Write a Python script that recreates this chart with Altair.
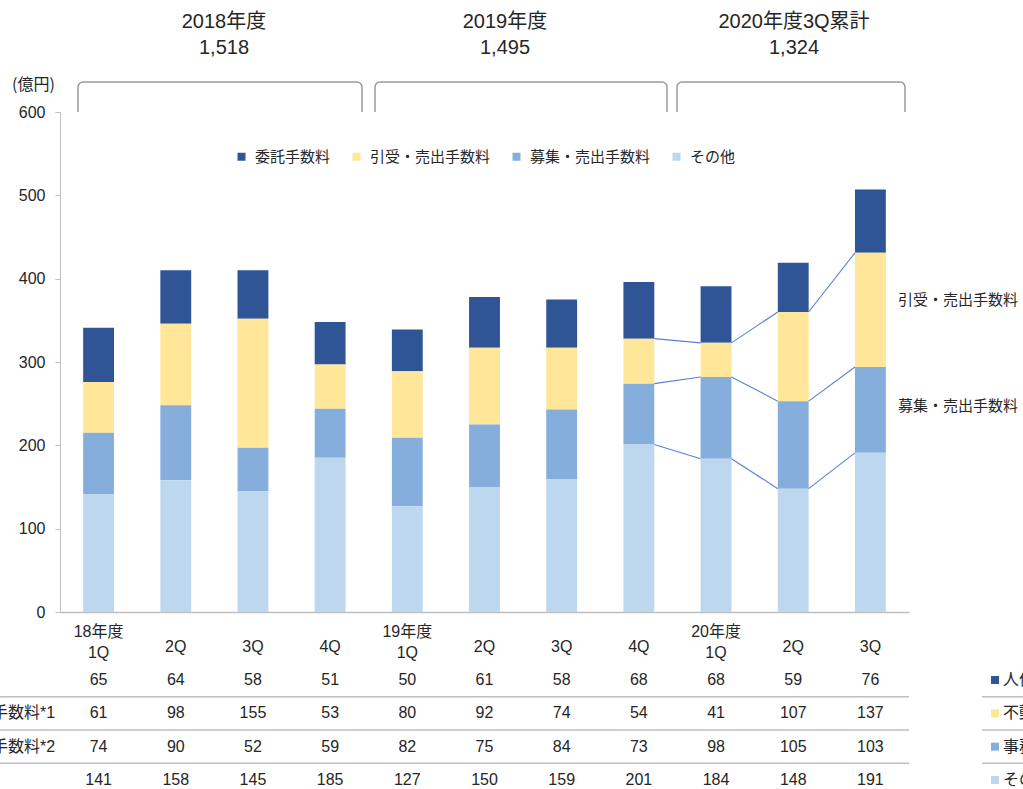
import altair as alt
import pandas as pd

# ---------------- data ----------------
quarters = ["18-1Q", "18-2Q", "18-3Q", "18-4Q", "19-1Q", "19-2Q", "19-3Q", "19-4Q", "20-1Q", "20-2Q", "20-3Q"]
year_labels = ["18年度", "", "", "", "19年度", "", "", "", "20年度", "", ""]
q_labels = ["1Q", "2Q", "3Q", "4Q", "1Q", "2Q", "3Q", "4Q", "1Q", "2Q", "3Q"]

series = ["委託手数料", "引受・売出手数料", "募集・売出手数料", "その他"]
itaku = [65, 64, 58, 51, 50, 61, 58, 68, 68, 59, 76]
hikiuke = [61, 98, 155, 53, 80, 92, 74, 54, 41, 107, 137]
boshu = [74, 90, 52, 59, 82, 75, 84, 73, 98, 105, 103]
sonota = [141, 158, 145, 185, 127, 150, 159, 201, 184, 148, 191]
colors = ["#2F5597", "#FFE699", "#86AEDD", "#BDD7EE"]

table_labels = ["委託手数料", "引受・売出手数料*1", "募集・売出手数料*2", "その他"]
side_legend = ["人件費", "不動産関係費", "事務費", "その他"]
year_titles = ["2018年度", "2019年度", "2020年度3Q累計"]
year_totals = ["1,518", "1,495", "1,324"]
right_labels = ["引受・売出手数料", "募集・売出手数料"]
y_ticks = [0, 100, 200, 300, 400, 500, 600]
connector_pairs = [(7, 8), (8, 9), (9, 10)]

# ---------------- styles ----------------
FONT = "Liberation Sans, Noto Sans CJK JP"
JFONT = "Noto Sans CJK JP"
TXT = "#262626"
GRAY = "#BFBFBF"
BRK = "#9A9A9A"
W, H = 849, 500

values = [itaku, hikiuke, boshu, sonota]
stack_order = [3, 2, 1, 0]
rows = []
for s, vals, o in zip(series, values, stack_order):
    for q, v in zip(quarters, vals):
        rows.append({"quarter": q, "series": s, "value": v, "order": o})
df = pd.DataFrame(rows)

xenc = alt.X("quarter:N", sort=quarters,
             scale=alt.Scale(paddingInner=0.6, paddingOuter=0.3),
             axis=alt.Axis(labels=False, ticks=False, title=None, domainColor=GRAY, domainWidth=1.5))
color_enc = alt.Color("series:N", scale=alt.Scale(domain=series, range=colors),
                      legend=alt.Legend(orient="none", legendX=174, legendY=37, direction="horizontal",
                                        columns=4, title=None, symbolType="square", symbolSize=64,
                                        symbolStrokeWidth=0, labelFont=JFONT, labelFontSize=15,
                                        labelColor=TXT, labelOffset=6, columnPadding=18, padding=0))

bars = alt.Chart(df).mark_bar().encode(
    x=xenc,
    y=alt.Y("value:Q", stack="zero", scale=alt.Scale(domain=[0, 600]),
            axis=alt.Axis(values=y_ticks, title=None, grid=False, domainColor=GRAY, tickColor=GRAY,
                          tickSize=5, labelFont=FONT, labelFontSize=16, labelColor=TXT, labelPadding=10)),
    color=color_enc,
    order=alt.Order("order:Q"),
)

# connector lines between the last four bars
lvl1 = sonota
lvl2 = [a + b for a, b in zip(sonota, boshu)]
lvl3 = [a + b + c for a, b, c in zip(sonota, boshu, hikiuke)]
crow = []
for i, j in connector_pairs:
    for lv in (lvl1, lvl2, lvl3):
        crow.append({"q1": quarters[i], "q2": quarters[j], "y1": lv[i], "y2": lv[j]})
cdf = pd.DataFrame(crow)
connectors = alt.Chart(cdf).mark_rule(color="#5B80D8", strokeWidth=1.1).encode(
    x=alt.X("q1:N", sort=quarters, bandPosition=1),
    x2=alt.X2("q2:N", bandPosition=0),
    y=alt.Y("y1:Q", scale=alt.Scale(domain=[0, 600]), axis=None),
    y2="y2:Q",
)

# x labels
qdf = pd.DataFrame({"quarter": quarters, "year": year_labels, "ql": q_labels})
year_txt = alt.Chart(qdf).mark_text(font=FONT, fontSize=16, color=TXT, baseline="middle").encode(
    x=alt.X("quarter:N", sort=quarters), y=alt.value(520), text="year:N")
q_first = alt.Chart(qdf).transform_filter("datum.year != ''").mark_text(
    font=FONT, fontSize=16, color=TXT, baseline="middle").encode(
    x=alt.X("quarter:N", sort=quarters), y=alt.value(541), text="ql:N")
q_other = alt.Chart(qdf).transform_filter("datum.year == ''").mark_text(
    font=FONT, fontSize=16, color=TXT, baseline="middle").encode(
    x=alt.X("quarter:N", sort=quarters), y=alt.value(535), text="ql:N")

# table below the chart
tdf = pd.DataFrame({"quarter": quarters * 4,
                    "row": [r for r in range(4) for _ in quarters],
                    "v": itaku + hikiuke + boshu + sonota})
row_scale = alt.Scale(domain=[0, 3], range=[568, 668])
table_vals = alt.Chart(tdf).mark_text(font=FONT, fontSize=16, color=TXT, baseline="middle").encode(
    x=alt.X("quarter:N", sort=quarters),
    y=alt.Y("row:Q", scale=row_scale, axis=None),
    text="v:Q")

ldf = pd.DataFrame({"row": list(range(4)), "label": table_labels, "series": series, "side": side_legend})
table_lbl = alt.Chart(ldf).mark_text(font=FONT, fontSize=16, color=TXT, baseline="middle", align="left").encode(
    x=alt.value(-148), y=alt.Y("row:Q", scale=row_scale, axis=None), text="label:N")
side_sq = alt.Chart(ldf).mark_square(size=64, opacity=1).encode(
    x=alt.value(935), y=alt.Y("row:Q", scale=row_scale, axis=None), color=color_enc)
side_txt = alt.Chart(ldf).mark_text(font=JFONT, fontSize=16, color=TXT, baseline="middle", align="left").encode(
    x=alt.value(943), y=alt.Y("row:Q", scale=row_scale, axis=None), text="side:N")

sep = pd.DataFrame({"row": [0.5, 1.5, 2.5]})
sep_left = alt.Chart(sep).mark_rule(color=GRAY, strokeWidth=1.5).encode(
    x=alt.value(-60), x2=alt.value(W), y=alt.Y("row:Q", scale=row_scale, axis=None))
sep_right = alt.Chart(sep).mark_rule(color=GRAY, strokeWidth=1.5).encode(
    x=alt.value(922), x2=alt.value(970), y=alt.Y("row:Q", scale=row_scale, axis=None))

one = pd.DataFrame({"k": [0]})
layers = [bars, connectors, year_txt, q_first, q_other, table_vals, table_lbl, side_sq, side_txt,
          sep_left, sep_right]

# unit label
layers.append(alt.Chart(one).mark_text(text="(億円)", font=JFONT, fontSize=16, color=TXT,
                                       align="left", baseline="middle").encode(
    x=alt.value(-48), y=alt.value(-27)))

# year headers
head_x = [164, 445, 734]
for hx, t1, t2 in zip(head_x, year_titles, year_totals):
    layers.append(alt.Chart(one).mark_text(text=t1, font=FONT, fontSize=20, color=TXT,
                                           baseline="middle").encode(x=alt.value(hx), y=alt.value(-90)))
    layers.append(alt.Chart(one).mark_text(text=t2, font=FONT, fontSize=20, color=TXT,
                                           baseline="middle").encode(x=alt.value(hx), y=alt.value(-64)))

# brackets
brackets = [(18, 302), (315, 607), (617, 845)]
r = 5
for bx1, bx2 in brackets:
    layers.append(alt.Chart(one).mark_rule(color=BRK, strokeWidth=1.5).encode(
        x=alt.value(bx1 + r), x2=alt.value(bx2 - r), y=alt.value(-30)))
    for vx in (bx1, bx2):
        layers.append(alt.Chart(one).mark_rule(color=BRK, strokeWidth=1.5).encode(
            x=alt.value(vx), y=alt.value(-30 + r), y2=alt.value(0)))
    layers.append(alt.Chart(one).mark_arc(color=BRK, radius=r + 0.75, radius2=r - 0.75,
                                          theta=4.712389, theta2=6.283185).encode(
        x=alt.value(bx1 + r), y=alt.value(-30 + r)))
    layers.append(alt.Chart(one).mark_arc(color=BRK, radius=r + 0.75, radius2=r - 0.75,
                                          theta=0, theta2=1.570796).encode(
        x=alt.value(bx2 - r), y=alt.value(-30 + r)))

# right side labels
for lbl, ly in zip(right_labels, [188, 294]):
    layers.append(alt.Chart(one).mark_text(text=lbl, font=JFONT, fontSize=15, color=TXT,
                                           align="left", baseline="middle").encode(
        x=alt.value(838), y=alt.value(ly)))

chart = alt.layer(*layers).resolve_scale(y="independent").properties(
    width=W, height=H,
    autosize=alt.AutoSizeParams(type="none"),
    padding={"left": 60, "top": 112, "right": 114, "bottom": 177},
    background="white",
).configure_view(stroke=None)

chart.save("out.html", embed_options={"renderer": "svg", "actions": False})
